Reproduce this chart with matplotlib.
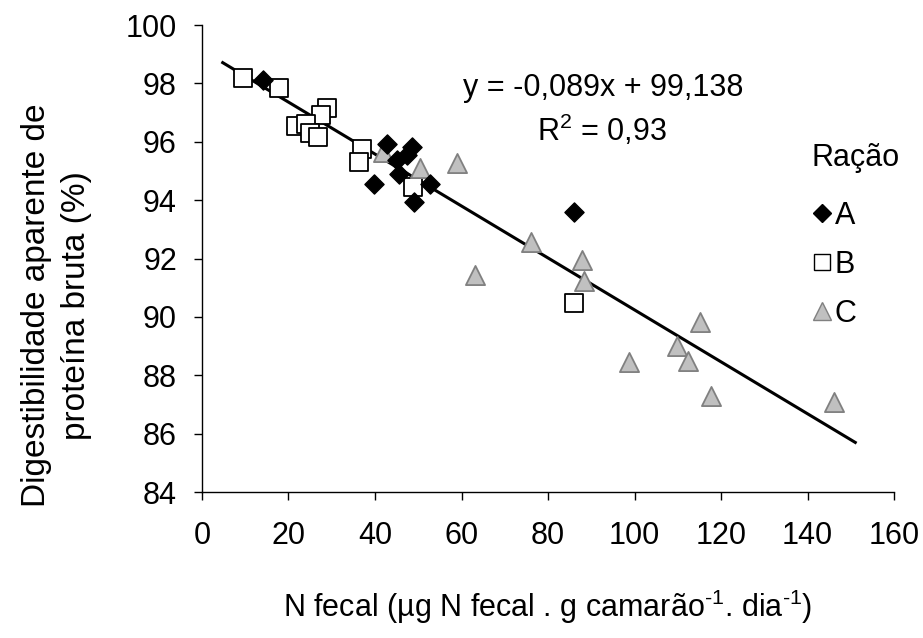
import numpy as np
import matplotlib.pyplot as plt

plt.rcParams['font.family'] = ['Liberation Sans', 'DejaVu Sans']
plt.rcParams['mathtext.fontset'] = 'custom'
plt.rcParams['mathtext.rm'] = 'Liberation Sans'
plt.rcParams['mathtext.it'] = 'Liberation Sans'

# Ração A
a_x = [14.2, 42.8, 45.0, 48.5, 47.3, 45.5, 52.6, 39.8, 49.0, 85.9]
a_y = [98.11, 95.91, 95.37, 95.81, 95.54, 94.89, 94.54, 94.54, 93.94, 93.6]

# Ração B
b_x = [9.5, 17.8, 29.0, 27.4, 21.7, 24.0, 25.0, 26.9, 37.1, 36.3, 48.7, 86.1]
b_y = [98.17, 97.85, 97.15, 96.9, 96.55, 96.6, 96.3, 96.17, 95.74, 95.29, 94.46, 90.46]

# Ração C
c_x = [41.8, 50.4, 59.0, 76.0, 87.8, 88.2, 63.1, 115.1, 109.9, 112.3, 98.8, 117.6, 146.1]
c_y = [95.66, 95.09, 95.26, 92.57, 91.94, 91.22, 91.43, 89.81, 89.0, 88.49, 88.44, 87.29, 87.09]

# regression line
slope, intercept = -0.089, 99.138
line_x = np.array([4.8, 151.0])

FS = 22

fig = plt.figure(figsize=(9.23, 6.38), dpi=100)
ax = fig.add_axes([0.2188, 0.2288, 0.75, 0.732])

ax.plot(line_x, slope * line_x + intercept, color='black', lw=2.2, zorder=2)

ax.scatter(b_x, b_y, marker='s', s=150, facecolor='white', edgecolor='black',
           linewidth=1.3, zorder=3)
ax.scatter(c_x, c_y, marker='^', s=190, facecolor='#c0c0c0', edgecolor='#808080',
           linewidth=1.3, zorder=3)
ax.scatter(a_x, a_y, marker='D', s=95, facecolor='black', edgecolor='black',
           zorder=4)

ax.set_xlim(0, 160)
ax.set_ylim(84, 100)
ax.set_xticks(range(0, 161, 20))
ax.set_yticks(range(84, 101, 2))
ax.tick_params(labelsize=FS, direction='out', length=6, width=1)
ax.tick_params(axis='x', pad=15)
ax.tick_params(axis='y', pad=12)
for s in ['top', 'right']:
    ax.spines[s].set_visible(False)
for s in ['left', 'bottom']:
    ax.spines[s].set_linewidth(1)

ax.set_ylabel('Digestibilidade aparente de\nproteína bruta (%)', fontsize=24,
              linespacing=1.35)
ax.yaxis.set_label_coords(-0.159, 0.40)
ax.set_xlabel(r'N fecal (µg N fecal . g camarão$^{\text{-}1}$. dia$^{\text{-}1}$)',
              fontsize=FS, labelpad=26)

ax.text(0.58, 0.865, 'y = -0,089x + 99,138', transform=ax.transAxes,
        ha='center', va='center', fontsize=FS)
ax.text(0.578, 0.775, 'R$^2$ = 0,93', transform=ax.transAxes,
        ha='center', va='center', fontsize=FS)

# legend: title drawn as text, entries below
ax.text(0.9436, 0.715, 'Ração', transform=ax.transAxes,
        ha='center', va='center', fontsize=FS)
leg_handles = [
    plt.Line2D([0], [0], marker='D', ls='none', markerfacecolor='black',
               markeredgecolor='black', markersize=9),
    plt.Line2D([0], [0], marker='s', ls='none', markerfacecolor='white',
               markeredgecolor='black', markersize=11),
    plt.Line2D([0], [0], marker='^', ls='none', markerfacecolor='#c0c0c0',
               markeredgecolor='#808080', markersize=13),
]
leg = ax.legend(leg_handles, ['A', 'B', 'C'], loc='upper left',
                bbox_to_anchor=(0.883, 0.623), frameon=False, fontsize=FS,
                borderpad=0, borderaxespad=0, handletextpad=0.1,
                labelspacing=0.62, handlelength=0.6)

fig.savefig('out.png', dpi=100)
